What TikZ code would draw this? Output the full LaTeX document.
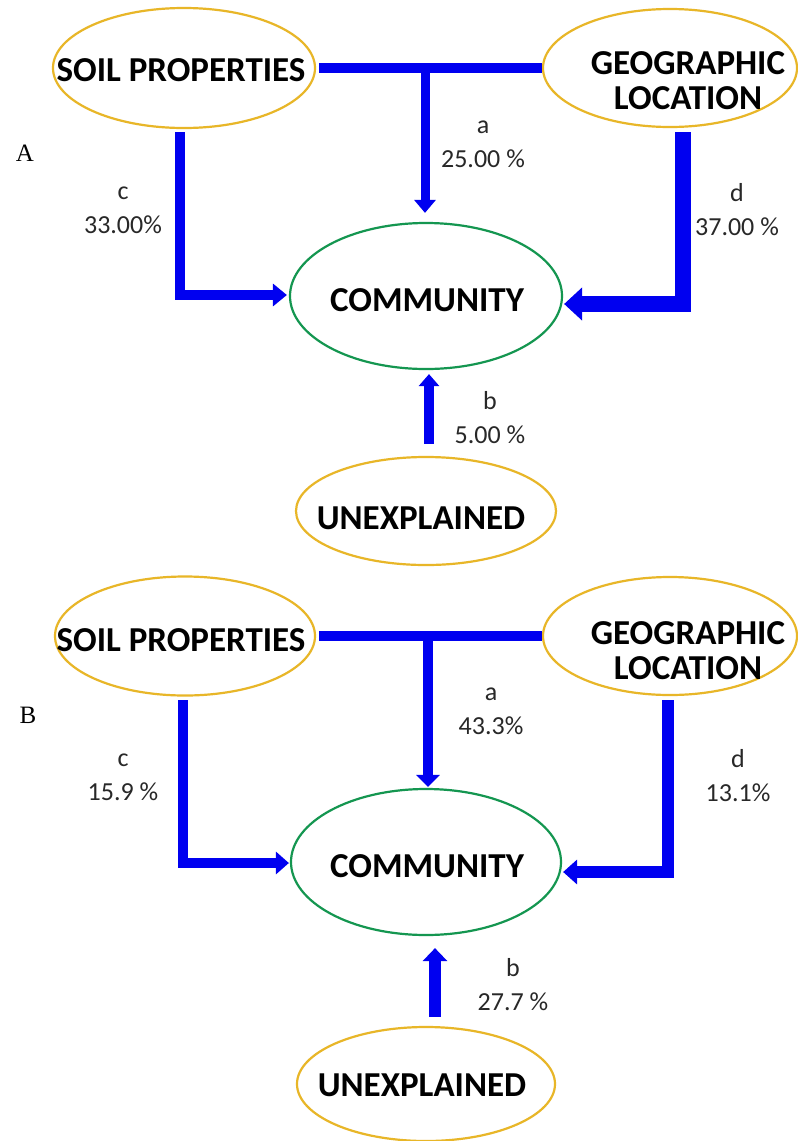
\documentclass[tikz,border=0pt]{standalone}
\usepackage{fontspec}
\setmainfont{Carlito}
\newfontfamily\serifA{Liberation Serif}
\usetikzlibrary{shapes.geometric,arrows.meta,calc}
\definecolor{arrblue}{RGB}{0,0,240}
\definecolor{ringgold}{RGB}{232,182,40}
\definecolor{ringgreen}{RGB}{20,150,80}
\definecolor{labgray}{RGB}{40,40,40}
\begin{document}
\begin{tikzpicture}[x=1pt,y=-1pt,
  goldring/.style={ellipse,draw=ringgold,line width=2.2pt,inner sep=0pt},
  greenring/.style={ellipse,draw=ringgreen,line width=2.2pt,inner sep=0pt},
  bigtext/.style={font=\fontsize{35}{35}\selectfont\bfseries,text=black,inner sep=0pt,align=center},
  smalltext/.style={font=\fontsize{26}{34}\selectfont,text=labgray,inner sep=0pt,align=center},
  paneltext/.style={font=\serifA\fontsize{25}{28}\selectfont,inner sep=0pt},
  conn/.style={draw=arrblue,line join=miter,line cap=butt},
]
\fill[white] (0,0) rectangle (798,1141);
\useasboundingbox (0,0) rectangle (798,1141);

% ---------------- Panel A ----------------
\node[goldring, minimum width=262pt, minimum height=120pt] (soilA) at (184,68) {};
\node[goldring, minimum width=254pt, minimum height=118pt] (geoA) at (670,68) {};
\node[greenring, minimum width=272pt, minimum height=146pt] (commA) at (426,296) {};
\node[goldring, minimum width=260pt, minimum height=108pt] (unexA) at (426,511) {};

\node[bigtext] (soilAt) at (181,70) {SOIL PROPERTIES};
\node[bigtext] (geoAt) at (688,81) {GEOGRAPHIC\\LOCATION};
\node[bigtext] (commAt) at (427,300) {COMMUNITY};
\node[bigtext] (unexAt) at (421,518) {UNEXPLAINED};

\coordinate (jA) at (425,68);
\coordinate (cA) at (180,132);
\coordinate (dA) at (683,132);

\draw[conn,line width=10pt] ([xshift=3pt]soilA.east) -- (geoA.west);
\draw[conn,line width=9pt,-{Triangle[length=13pt,width=21pt]}] (jA) -- ($(jA |- commA.north)+(0,-9)$);
\draw[conn,line width=10pt,-{Triangle[length=14pt,width=22pt]}] (cA) |- ($(commA.west)+(-2,-1)$);
\draw[conn,line width=16pt,-{Triangle[length=18pt,width=32pt]}] (dA) |- ($(commA.east)+(1,8)$);
\draw[conn,line width=10pt,-{Triangle[length=12pt,width=20pt]}] ($(unexA.north)+(3,-12)$) -- ($(commA.south)+(3,4)$);

\node[smalltext] (labcA) at (123,210) {c\\33.00\%};
\node[smalltext] (labaA) at (483,144) {a\\25.00 \%};
\node[smalltext] (labdA) at (737,210) {d\\37.00 \%};
\node[smalltext] (labbA) at (490,418) {b\\5.00 \%};
\node[paneltext] (panA) at (25,153) {A};

% ---------------- Panel B ----------------
\node[goldring, minimum width=260pt, minimum height=119pt] (soilB) at (185,636) {};
\node[goldring, minimum width=254pt, minimum height=118pt] (geoB) at (670,636) {};
\node[greenring, minimum width=270pt, minimum height=146pt] (commB) at (426,862) {};
\node[goldring, minimum width=258pt, minimum height=114pt] (unexB) at (426,1084) {};

\node[bigtext] (soilBt) at (181,640) {SOIL PROPERTIES};
\node[bigtext] (geoBt) at (688,651) {GEOGRAPHIC\\LOCATION};
\node[bigtext] (commBt) at (427,866) {COMMUNITY};
\node[bigtext] (unexBt) at (422,1085) {UNEXPLAINED};

\coordinate (jB) at (428,636);
\coordinate (cB) at (183,700);
\coordinate (dB) at (668,700);

\draw[conn,line width=10pt] ([xshift=3pt]soilB.east) -- (geoB.west);
\draw[conn,line width=10pt,-{Triangle[length=12pt,width=23pt]}] (jB) -- ($(jB |- commB.north)+(0,-1)$);
\draw[conn,line width=10pt,-{Triangle[length=13pt,width=22pt]}] (cB) |- ($(commB.west)+(-1,1)$);
\draw[conn,line width=12pt,-{Triangle[length=14pt,width=24pt]}] (dB) |- ($(commB.east)+(1,10)$);
\draw[conn,line width=12pt,-{Triangle[length=13pt,width=24pt]}] ($(unexB.north)+(9,-9)$) -- ($(commB.south)+(9,12)$);

\node[smalltext] (labcB) at (123,777) {c\\15.9 \%};
\node[smalltext] (labaB) at (491,711) {a\\43.3\%};
\node[smalltext] (labdB) at (738,776) {d\\13.1\%};
\node[smalltext] (labbB) at (513,985) {b\\27.7 \%};
\node[paneltext] (panB) at (28,715) {B};
\end{tikzpicture}
\end{document}
